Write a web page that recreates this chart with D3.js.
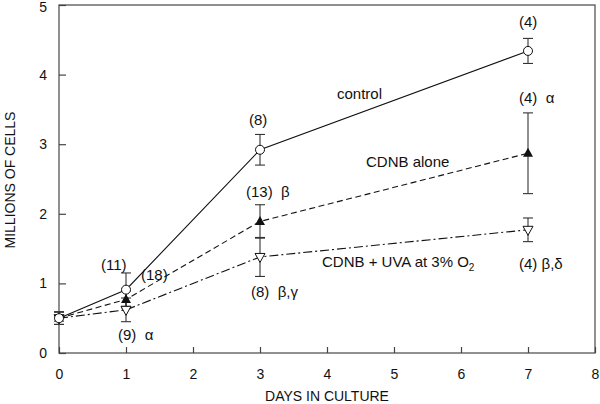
<!DOCTYPE html>
<html><head><meta charset="utf-8">
<script src="https://cdn.jsdelivr.net/npm/d3@7"></script>
<style>body{margin:0;background:#fff}svg{display:block}text{font-family:"Liberation Sans",Arial,sans-serif;fill:#111}</style>
</head><body><svg id="c" width="600" height="404"></svg>
<script>
const days = [0, 1, 3, 7];
const controlVals = [0.50, 0.91, 2.92, 4.34];
const controlErr  = [0.09, 0.24, 0.22, 0.18];
const cdnbVals = [0.50, 0.77, 1.89, 2.87];
const cdnbErr  = [0.09, 0.12, 0.24, 0.58];
const uvaVals = [0.50, 0.62, 1.38, 1.77];
const uvaErr  = [0.09, 0.17, 0.28, 0.17];
const xTicks = [0,1,2,3,4,5,6,7,8];
const yTicks = [0,1,2,3,4,5];

const svg = d3.select("#c");
const x = d3.scaleLinear().domain([0,8]).range([59,595]);
const y = d3.scaleLinear().domain([0,5]).range([353,5]);

svg.append("rect").attr("x",59).attr("y",5).attr("width",536).attr("height",348)
  .attr("fill","none").attr("stroke","#555").attr("stroke-width",1.3);

const xa = svg.append("g").attr("transform","translate(0,353)")
  .call(d3.axisBottom(x).tickValues(xTicks).tickSize(-6).tickPadding(16).tickFormat(d3.format("d")));
const ya = svg.append("g").attr("transform","translate(59,0)")
  .call(d3.axisLeft(y).tickValues(yTicks).tickSize(-7).tickPadding(12).tickFormat(d3.format("d")));
[xa,ya].forEach(a=>{a.select(".domain").remove();a.selectAll("line").attr("stroke","#444").attr("stroke-width",1.2);
  a.selectAll("text").attr("font-size",14).attr("fill","#111").style("font-family","Liberation Sans, Arial, sans-serif");});
ya.selectAll("text").filter(d=>d===5).attr("dy","0.45em");

svg.append("text").attr("x",327).attr("y",401).attr("text-anchor","middle").attr("font-size",14).text("DAYS IN CULTURE");
svg.append("text").attr("transform","translate(15,180) rotate(-90)").attr("text-anchor","middle").attr("font-size",14).text("MILLIONS OF CELLS");

const line = d3.line().x((d,i)=>x(days[i])).y(d=>y(d));
const series = [
  {v:uvaVals,e:uvaErr,dash:"9,3,2,3",marker:"down"},
  {v:cdnbVals,e:cdnbErr,dash:"6,3.5",marker:"up"},
  {v:controlVals,e:controlErr,dash:null,marker:"circle"}
];
series.forEach(s=>{
  const p = svg.append("path").attr("d",line(s.v)).attr("fill","none").attr("stroke","#111").attr("stroke-width",1.1);
  if(s.dash) p.attr("stroke-dasharray",s.dash);
});
series.forEach(s=>{
  s.v.forEach((v,i)=>{
    const cx=x(days[i]);
    const g=svg.append("g").attr("stroke","#333").attr("stroke-width",1.1);
    g.append("line").attr("x1",cx).attr("x2",cx).attr("y1",y(v-s.e[i])).attr("y2",y(v+s.e[i]));
    [v-s.e[i],v+s.e[i]].forEach(t=>g.append("line").attr("x1",cx-5).attr("x2",cx+5).attr("y1",y(t)).attr("y2",y(t)));
  });
});
series.forEach(s=>{
  s.v.forEach((v,i)=>{
    const cx=x(days[i]), cy=y(v);
    if(s.marker==="circle"){
      svg.append("circle").attr("cx",cx).attr("cy",cy).attr("r",4.5).attr("fill","#fff").attr("stroke","#111").attr("stroke-width",1);
    } else if(s.marker==="up"){
      svg.append("path").attr("d",`M${cx},${cy-5.5}L${cx+5},${cy+3.5}L${cx-5},${cy+3.5}Z`).attr("fill","#111");
    } else {
      svg.append("path").attr("d",`M${cx},${cy+5.5}L${cx+5},${cy-3.5}L${cx-5},${cy-3.5}Z`).attr("fill","#fff").attr("stroke","#111").attr("stroke-width",1);
    }
  });
});

const labels = [
  ["(11)",101,270],["(18)",141,280],["(9)  α",118,340],
  ["(8)",249,125],["(13)  β",246,197],["(8)  β,γ",251,297],
  ["(4)",519,27],["(4)  α",519,103],["(4) β,δ",519,269],
  ["control",337,99],["CDNB alone",366,167]
];
labels.forEach(l=>svg.append("text").attr("x",l[1]).attr("y",l[2]).attr("font-size",15).style("white-space","pre").text(l[0]));
const t = svg.append("text").attr("x",322).attr("y",267).attr("font-size",15);
t.append("tspan").text("CDNB + UVA at 3% O");
t.append("tspan").attr("font-size",10).attr("dy",4).text("2");
</script></body></html>
